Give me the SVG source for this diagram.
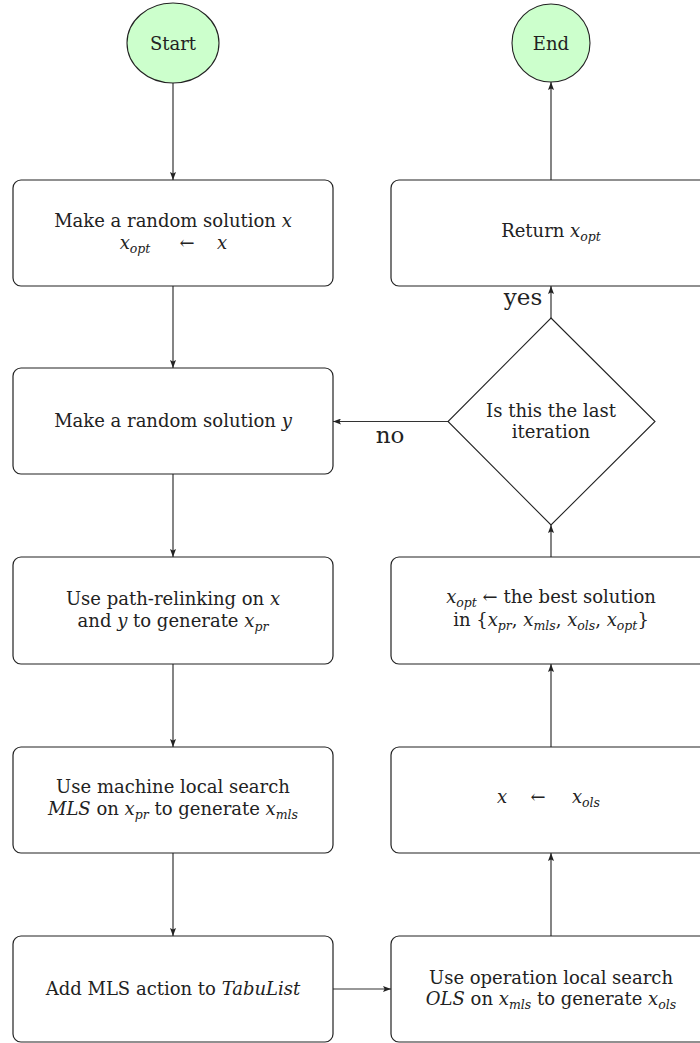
<svg xmlns="http://www.w3.org/2000/svg" width="700" height="1043" viewBox="0 0 700 1043" font-family="'DejaVu Serif', 'Liberation Serif', serif">
<style>
text{font-family:"DejaVu Serif","Liberation Serif",serif;font-size:18px;fill:#222;text-anchor:middle}
.i{font-style:italic}
.s{font-style:italic;font-size:12.5px}
.lbl{font-size:23px}
.box{fill:#fff;stroke:#222;stroke-width:1.2}
.term{fill:#ccffcc;stroke:#222;stroke-width:1.1}
.dia{fill:#fff;stroke:#222;stroke-width:1.1}
.c{fill:none;stroke:#333;stroke-width:1.2;marker-end:url(#ah)}
</style>
<defs>
<marker id="ah" viewBox="0 0 8 6" refX="8" refY="3" markerWidth="8" markerHeight="6" markerUnits="userSpaceOnUse" orient="auto">
<path d="M0,0 L8,3 L0,6 L1.6,3 z" fill="#222"/>
</marker>
</defs>
<g id="connectors">
<line class="c" x1="173" y1="83" x2="173" y2="180"/>
<line class="c" x1="173" y1="286" x2="173" y2="368"/>
<line class="c" x1="173" y1="474" x2="173" y2="557"/>
<line class="c" x1="173" y1="664" x2="173" y2="747"/>
<line class="c" x1="173" y1="853" x2="173" y2="936"/>
<line class="c" x1="333" y1="989" x2="391" y2="989"/>
<line class="c" x1="551" y1="936" x2="551" y2="853"/>
<line class="c" x1="551" y1="747" x2="551" y2="664"/>
<line class="c" x1="551" y1="557" x2="551" y2="525"/>
<line class="c" x1="551" y1="318" x2="551" y2="286"/>
<line class="c" x1="448" y1="421.5" x2="333" y2="421.5"/>
<line class="c" x1="551" y1="180" x2="551" y2="82"/>
<text class="lbl" x="523" y="305">yes</text>
<text class="lbl" x="390" y="443">no</text>
</g>
<g id="start">
<ellipse class="term" cx="173" cy="43" rx="46" ry="40"/>
<text x="173" y="50">Start</text>
</g>
<g id="end">
<circle class="term" cx="551" cy="43" r="39"/>
<text x="551" y="50">End</text>
</g>
<g id="n1">
<rect class="box" x="13" y="180" width="320" height="106" rx="8"/>
<text x="173" y="227">Make a random solution <tspan class="i">x</tspan></text>
<text x="135" y="249"><tspan class="i">x</tspan><tspan class="s" dy="4">opt</tspan></text>
<text x="187" y="249">←</text>
<text x="222" y="249" class="i">x</text>
</g>
<g id="n2">
<rect class="box" x="13" y="368" width="320" height="106" rx="8"/>
<text x="173" y="427">Make a random solution <tspan class="i">y</tspan></text>
</g>
<g id="n3">
<rect class="box" x="13" y="557" width="320" height="107" rx="8"/>
<text x="173" y="605">Use path-relinking on <tspan class="i">x</tspan></text>
<text x="173" y="627">and <tspan class="i">y</tspan> to generate <tspan class="i">x</tspan><tspan class="s" dy="4">pr</tspan></text>
</g>
<g id="n4">
<rect class="box" x="13" y="747" width="320" height="106" rx="8"/>
<text x="173" y="793">Use machine local search</text>
<text x="173" y="815"><tspan class="i">MLS</tspan> on <tspan class="i">x</tspan><tspan class="s" dy="4">pr</tspan><tspan dy="-4"> to generate </tspan><tspan class="i">x</tspan><tspan class="s" dy="4">mls</tspan></text>
</g>
<g id="n5">
<rect class="box" x="13" y="936" width="320" height="106" rx="8"/>
<text x="173" y="995">Add MLS action to <tspan class="i">TabuList</tspan></text>
</g>
<g id="n6">
<rect class="box" x="391" y="936" width="320" height="106" rx="8"/>
<text x="551" y="984">Use operation local search</text>
<text x="551" y="1005"><tspan class="i">OLS</tspan> on <tspan class="i">x</tspan><tspan class="s" dy="4">mls</tspan><tspan dy="-4"> to generate </tspan><tspan class="i">x</tspan><tspan class="s" dy="4">ols</tspan></text>
</g>
<g id="n7">
<rect class="box" x="391" y="747" width="320" height="106" rx="8"/>
<text x="502" y="803" class="i">x</text>
<text x="538" y="803">←</text>
<text x="586" y="803"><tspan class="i">x</tspan><tspan class="s" dy="4">ols</tspan></text>
</g>
<g id="n8">
<rect class="box" x="391" y="557" width="320" height="107" rx="8"/>
<text x="551" y="603"><tspan class="i">x</tspan><tspan class="s" dy="4">opt</tspan><tspan dy="-4"> ← the best solution</tspan></text>
<text x="551" y="626">in {<tspan class="i">x</tspan><tspan class="s" dy="4">pr</tspan><tspan dy="-4">, </tspan><tspan class="i">x</tspan><tspan class="s" dy="4">mls</tspan><tspan dy="-4">, </tspan><tspan class="i">x</tspan><tspan class="s" dy="4">ols</tspan><tspan dy="-4">, </tspan><tspan class="i">x</tspan><tspan class="s" dy="4">opt</tspan><tspan dy="-4">}</tspan></text>
</g>
<g id="decision">
<polygon class="dia" points="551,318 655,421.5 551,525 448,421.5"/>
<text x="551" y="417">Is this the last</text>
<text x="551" y="438">iteration</text>
</g>
<g id="n9">
<rect class="box" x="391" y="180" width="320" height="106" rx="8"/>
<text x="551" y="237">Return <tspan class="i">x</tspan><tspan class="s" dy="4">opt</tspan></text>
</g>
</svg>
